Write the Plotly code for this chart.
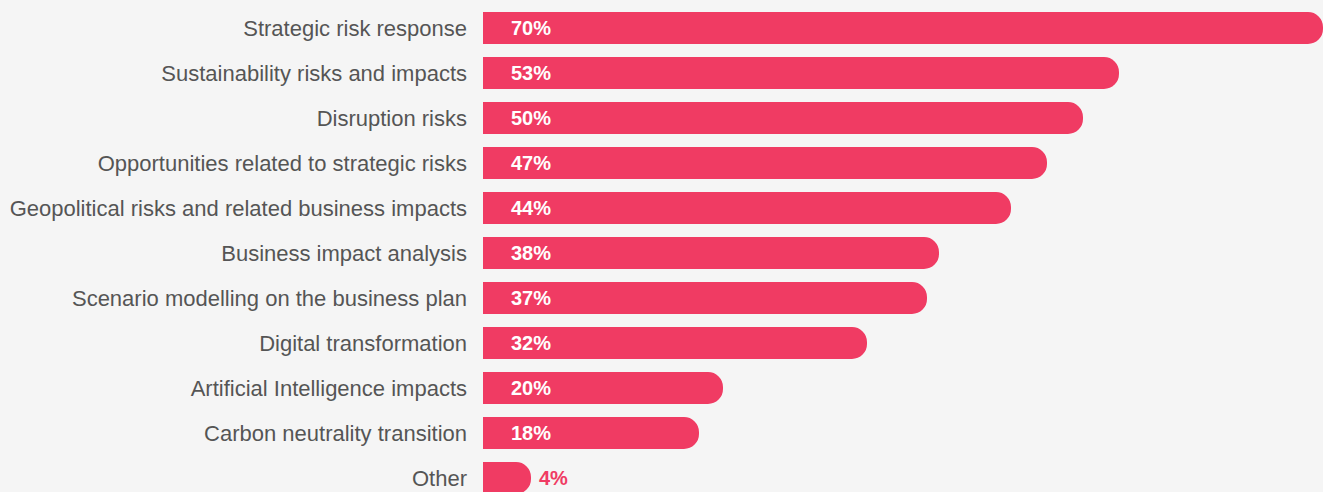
import plotly.graph_objects as go

categories = [
    "Strategic risk response",
    "Sustainability risks and impacts",
    "Disruption risks",
    "Opportunities related to strategic risks",
    "Geopolitical risks and related business impacts",
    "Business impact analysis",
    "Scenario modelling on the business plan",
    "Digital transformation",
    "Artificial Intelligence impacts",
    "Carbon neutrality transition",
    "Other",
]
values = [70, 53, 50, 47, 44, 38, 37, 32, 20, 18, 4]
value_labels = [f"{v}%" for v in values]

BAR = "#F03B63"
BG = "#F5F5F5"
FONT = "Liberation Sans, Arial, sans-serif"
positions = list(range(len(categories)))

fig = go.Figure(go.Bar(
    x=values, y=positions, orientation="h",
    marker=dict(color=BAR, line=dict(width=0)),
    width=0.71, hoverinfo="skip",
))

annotations = []
for pos, v, lab in zip(positions, values, value_labels):
    if v >= 10:
        annotations.append(dict(x=0, y=pos, xref="x", yref="y", text=f"<b>{lab}</b>",
                                showarrow=False, xanchor="left", yanchor="middle", xshift=26,
                                font=dict(family=FONT, size=20, color="white")))
    else:
        annotations.append(dict(x=v, y=pos, xref="x", yref="y", text=f"<b>{lab}</b>",
                                showarrow=False, xanchor="left", yanchor="middle", xshift=6,
                                font=dict(family=FONT, size=20, color=BAR)))

fig.update_layout(
    width=1323, height=492,
    margin=dict(l=483, r=0, t=0, b=0),
    paper_bgcolor=BG, plot_bgcolor=BG,
    barcornerradius=16,
    showlegend=False,
    annotations=annotations,
    xaxis=dict(range=[0, 70], visible=False, fixedrange=True),
    yaxis=dict(range=[10.311, -0.622], tickvals=positions, ticktext=categories,
               showgrid=False, zeroline=False, showline=False, ticks="",
               ticklabelstandoff=15,
               tickfont=dict(family=FONT, size=22, color="#555555"),
               fixedrange=True),
)

fig.write_html("out.html", config={"displayModeBar": False},
               post_script="document.body.style.margin='0';document.body.style.background='#F5F5F5';")
